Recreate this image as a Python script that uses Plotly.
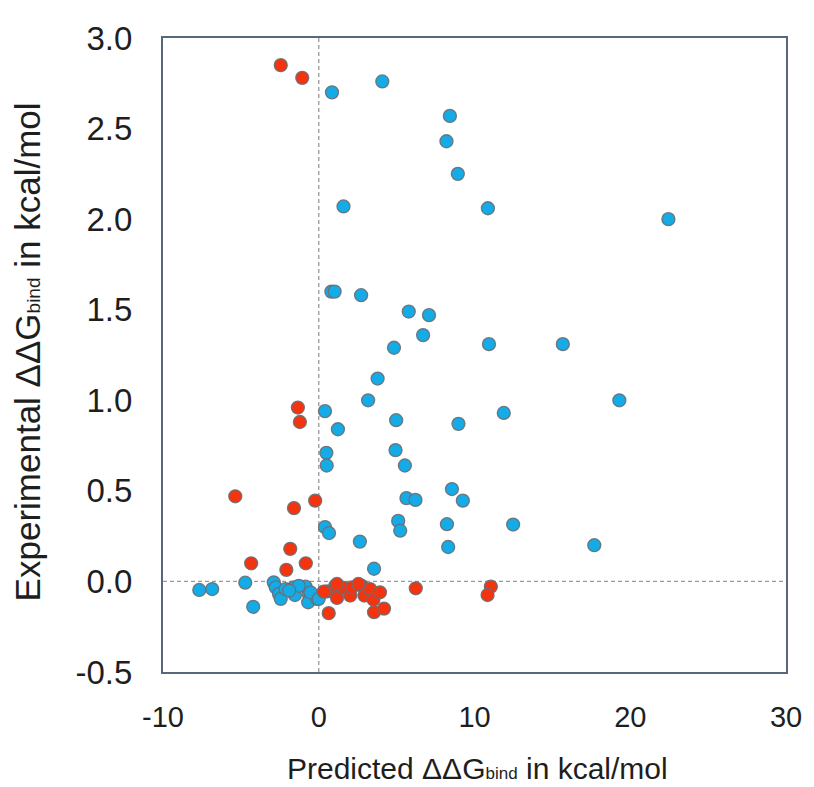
import plotly.graph_objects as go

# Blue series (predicted, experimental)
blue_x = [0.85, 4.08, 8.42, 8.20, 8.93, 1.59, 10.86, 22.45,
          0.81, 1.02, 2.72, 5.78, 7.08, 6.70, 4.83, 10.93, 15.67,
          3.78, 3.17, 19.30, 0.40, 4.97, 11.88, 1.23, 8.97,
          0.49, 4.93, 0.51, 5.53, 8.55, 5.63, 6.21, 9.25,
          0.40, 0.66, 5.10, 5.23, 8.23, 12.48, 2.64, 8.31, 17.69,
          3.55, -7.67, -6.84, -4.72, -4.21, -2.89,
          -2.76, -2.55, -2.44, -2.13, -1.59, -1.53, -0.85, -0.64,
          -0.68, -0.11, -1.28, -0.53, 0.00, -1.90]
blue_y = [2.70, 2.76, 2.57, 2.43, 2.25, 2.07, 2.06, 2.00,
          1.60, 1.60, 1.58, 1.49, 1.47, 1.36, 1.29, 1.31, 1.31,
          1.12, 1.00, 1.00, 0.94, 0.89, 0.93, 0.84, 0.87,
          0.71, 0.725, 0.64, 0.64, 0.51, 0.46, 0.45, 0.446,
          0.30, 0.267, 0.334, 0.28, 0.316, 0.314, 0.22, 0.19, 0.20,
          0.07, -0.047, -0.042, -0.007, -0.14, -0.005,
          -0.033, -0.069, -0.096, -0.042, -0.033, -0.075, -0.029, -0.069,
          -0.115, -0.096, -0.024, -0.06, -0.096, -0.05]

# Red series (predicted, experimental)
red_x = [-2.44, -1.06, -1.34, -1.21, -0.23, -1.59, -5.36, -1.83,
         -4.34, -2.08, -0.83,
         0.53, 1.06, 1.17, 1.59, 2.02, 2.13, 2.76, 2.93, 3.30, 3.51,
         3.93, 3.55, 4.19, 0.64, 6.23, 11.05, 10.84, 0.32, 1.17, 2.55]
red_y = [2.85, 2.78, 0.96, 0.88, 0.446, 0.405, 0.47, 0.18,
         0.10, 0.064, 0.10,
         -0.055, -0.024, -0.091, -0.036, -0.078, -0.033, -0.024, -0.078, -0.042, -0.10,
         -0.06, -0.17, -0.15, -0.175, -0.038, -0.029, -0.075, -0.056, -0.014, -0.014]

x_ticks = [-10, 0, 10, 20, 30]
y_ticks = [-0.5, 0.0, 0.5, 1.0, 1.5, 2.0, 2.5, 3.0]

BLUE = "#15ABE6"
RED = "#F4340F"
EDGE = "rgba(105,110,115,0.9)"
TXT = "#1e1e1e"

fig = go.Figure()
fig.add_trace(go.Scatter(x=blue_x, y=blue_y, mode="markers",
                         marker=dict(size=13, color=BLUE, line=dict(color=EDGE, width=1.3)),
                         showlegend=False))
fig.add_trace(go.Scatter(x=red_x, y=red_y, mode="markers",
                         marker=dict(size=13, color=RED, line=dict(color=EDGE, width=1.3)),
                         showlegend=False))

fig.add_shape(type="line", xref="x", yref="paper", x0=0, x1=0, y0=0, y1=1,
              line=dict(color="#9a9a9a", width=1.3, dash="4px,3px"), layer="below")
fig.add_shape(type="line", xref="paper", yref="y", x0=0, x1=1, y0=0, y1=0,
              line=dict(color="#9a9a9a", width=1.3, dash="4px,3px"), layer="below")

normal = "Liberation Sans, Arial, sans-serif"

fig.update_layout(
    width=806, height=779,
    margin=dict(l=155, r=24, t=25, b=115),
    paper_bgcolor="white", plot_bgcolor="white",
    xaxis=dict(range=[-10, 30], tickvals=x_ticks, ticktext=[str(v) for v in x_ticks],
               showgrid=False, zeroline=False, showline=True, linecolor="#56687a",
               linewidth=2, mirror=True, ticks="", ticklabelstandoff=18,
               tickfont=dict(family=normal, size=29, color=TXT)),
    yaxis=dict(range=[-0.5, 3.0], tickvals=y_ticks, ticktext=[f"{v:.1f}" for v in y_ticks],
               showgrid=False, zeroline=False, showline=True, linecolor="#56687a",
               linewidth=2, mirror=True, ticks="", ticklabelstandoff=22,
               tickfont=dict(family=normal, size=33, color=TXT)),
    annotations=[
        dict(text="Predicted ΔΔG<span style='font-size:17px'>bind</span> in kcal/mol",
             xref="paper", yref="paper",
             x=0.5056, y=-0.1518, showarrow=False, xanchor="center", yanchor="middle",
             font=dict(family=normal, size=30, color=TXT)),
        dict(text="Experimental ΔΔG<span style='font-size:19px'>bind</span> in kcal/mol",
             xref="paper", yref="paper",
             x=-0.2169, y=0.5055, showarrow=False, xanchor="center", yanchor="middle",
             textangle=-90,
             font=dict(family=normal, size=35, color=TXT)),
    ],
)

fig.write_html("out.html")
